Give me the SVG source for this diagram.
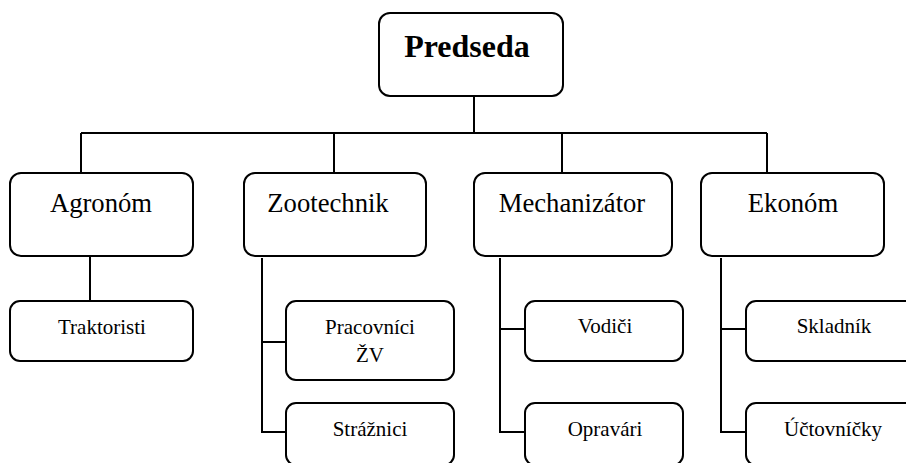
<svg xmlns="http://www.w3.org/2000/svg" width="906" height="463" viewBox="0 0 906 463">
<style>
.box{fill:#fff;stroke:#000;stroke-width:2}
.ln{fill:none;stroke:#000;stroke-width:2}
text{font-family:"Liberation Serif","Times New Roman",serif;fill:#000;text-anchor:middle}
.t1{font-size:32px;font-weight:bold}
.t2{font-size:26.67px}
.t3{font-size:21px}
</style>
<rect width="906" height="463" fill="#fff"/>
<g id="connectors">
<path class="ln" d="M474,96V133M81,133H767M81,133V173M334,133V173M562,133V173M767,133V173"/>
<path class="ln" d="M90,256V301"/>
<path class="ln" d="M262,258V432H286M262,342H286"/>
<path class="ln" d="M500,258V432H525M500,329H525"/>
<path class="ln" d="M721,258V432H746M721,329H746"/>
</g>
<g id="predseda"><rect class="box" x="379" y="13" width="184" height="83" rx="11"/><text class="t1" x="467" y="57">Predseda</text></g>
<g id="agronom"><rect class="box" x="10" y="173" width="183" height="83" rx="11"/><text class="t2" x="101" y="212">Agronóm</text></g>
<g id="zootechnik"><rect class="box" x="244" y="173" width="182" height="83" rx="11"/><text class="t2" x="328" y="212">Zootechnik</text></g>
<g id="mechanizator"><rect class="box" x="474" y="173" width="198" height="83" rx="11"/><text class="t2" x="572" y="212">Mechanizátor</text></g>
<g id="ekonom"><rect class="box" x="701" y="173" width="183" height="83" rx="11"/><text class="t2" x="793" y="212">Ekonóm</text></g>
<g id="traktoristi"><rect class="box" x="10" y="301" width="183" height="60" rx="10"/><text class="t3" x="102" y="334">Traktoristi</text></g>
<g id="pracovnici"><rect class="box" x="286" y="301" width="168" height="79" rx="10"/><text class="t3" x="370" y="334">Pracovníci</text><text class="t3" x="370" y="362">ŽV</text></g>
<g id="straznici"><rect class="box" x="286" y="403" width="168" height="62" rx="10"/><text class="t3" x="370" y="436">Strážnici</text></g>
<g id="vodici"><rect class="box" x="525" y="301" width="158" height="60" rx="10"/><text class="t3" x="605" y="333">Vodiči</text></g>
<g id="opravari"><rect class="box" x="525" y="403" width="158" height="62" rx="10"/><text class="t3" x="605" y="436">Opravári</text></g>
<g id="skladnik"><rect class="box" x="746" y="301" width="175" height="60" rx="10"/><text class="t3" x="834" y="333">Skladník</text></g>
<g id="uctovnicky"><rect class="box" x="746" y="403" width="175" height="62" rx="10"/><text class="t3" x="833" y="436">Účtovníčky</text></g>
</svg>
